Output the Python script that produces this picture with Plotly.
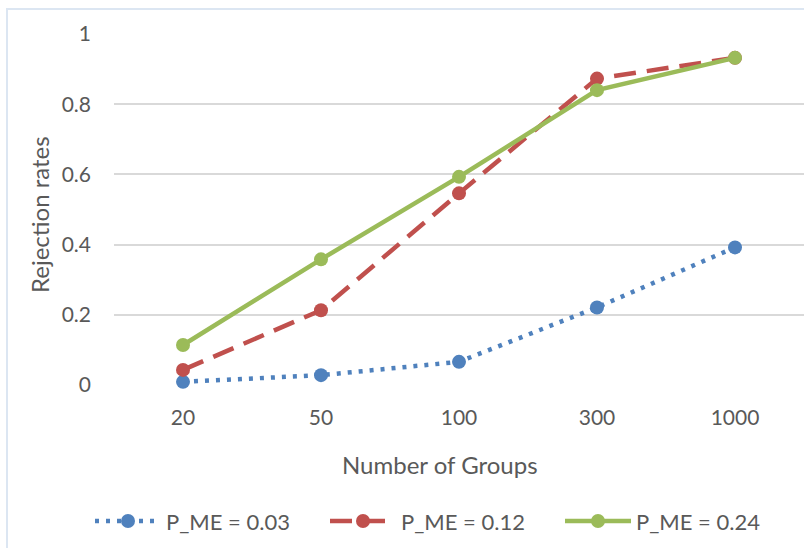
import plotly.graph_objects as go

groups = ["20", "50", "100", "300", "1000"]
p003 = [0.009, 0.028, 0.066, 0.221, 0.392]
p012 = [0.043, 0.213, 0.546, 0.873, 0.932]
p024 = [0.114, 0.358, 0.593, 0.840, 0.932]
y_ticks = [0, 0.2, 0.4, 0.6, 0.8, 1]
y_ticklabels = ["0", "0.2", "0.4", "0.6", "0.8", "1"]

FONT = "Lato"
TXT = "#595959"

fig = go.Figure()
fig.add_trace(go.Scatter(x=groups, y=p003, name="P_ME = 0.03", mode="lines+markers",
                         line=dict(color="#4F81BD", width=4.5, dash="4px,7px"),
                         marker=dict(size=14, color="#4F81BD"), cliponaxis=False))
fig.add_trace(go.Scatter(x=groups, y=p012, name="P_ME = 0.12", mode="lines+markers",
                         line=dict(color="#C0504D", width=4.5, dash="22px,11px"),
                         marker=dict(size=14, color="#C0504D"), cliponaxis=False))
fig.add_trace(go.Scatter(x=groups, y=p024, name="P_ME = 0.24", mode="lines+markers",
                         line=dict(color="#9BBB59", width=4.5),
                         marker=dict(size=14, color="#9BBB59"), cliponaxis=False))

fig.update_layout(
    width=804, height=548,
    margin=dict(l=114, r=0, t=34, b=163, autoexpand=False),
    paper_bgcolor="white", plot_bgcolor="white",
    font=dict(family=FONT, size=21, color=TXT),
    showlegend=True,
    legend=dict(orientation="h", x=(90 - 114) / 690, xanchor="left", y=-0.388,
                yanchor="middle", itemwidth=66, entrywidth=154,
                font=dict(size=22, color=TXT), traceorder="normal"),
    xaxis=dict(type="category", range=[-0.5, 4.5], showgrid=False, zeroline=False,
               showline=False, ticks="outside", ticklen=14, tickcolor="rgba(0,0,0,0)",
               tickfont=dict(size=21, color=TXT)),
    yaxis=dict(range=[0, 1], tickvals=y_ticks, ticktext=y_ticklabels,
               showgrid=True, gridcolor="#D9D9D9", gridwidth=2, zeroline=False,
               showline=False, ticks="", ticklabelstandoff=22,
               tickfont=dict(size=21, color=TXT)),
    annotations=[
        dict(text="Number of Groups", xref="paper", yref="paper", x=(440 - 114) / 690,
             y=(385 - 464) / 351, showarrow=False, font=dict(size=24, color=TXT),
             xanchor="center", yanchor="middle"),
        dict(text="Rejection rates", xref="paper", yref="paper", x=(39 - 114) / 690,
             y=(385 - 215) / 351, showarrow=False, textangle=-90,
             font=dict(size=24, color=TXT), xanchor="center", yanchor="middle"),
    ],
    shapes=[
        dict(type="rect", xref="paper", yref="paper", x0=(7 - 114) / 690, x1=1.2,
             y0=-1, y1=(385 - 9) / 351, line=dict(color="#DCE6F2", width=2),
             layer="below"),
    ],
)

fig.write_html("out.html")
